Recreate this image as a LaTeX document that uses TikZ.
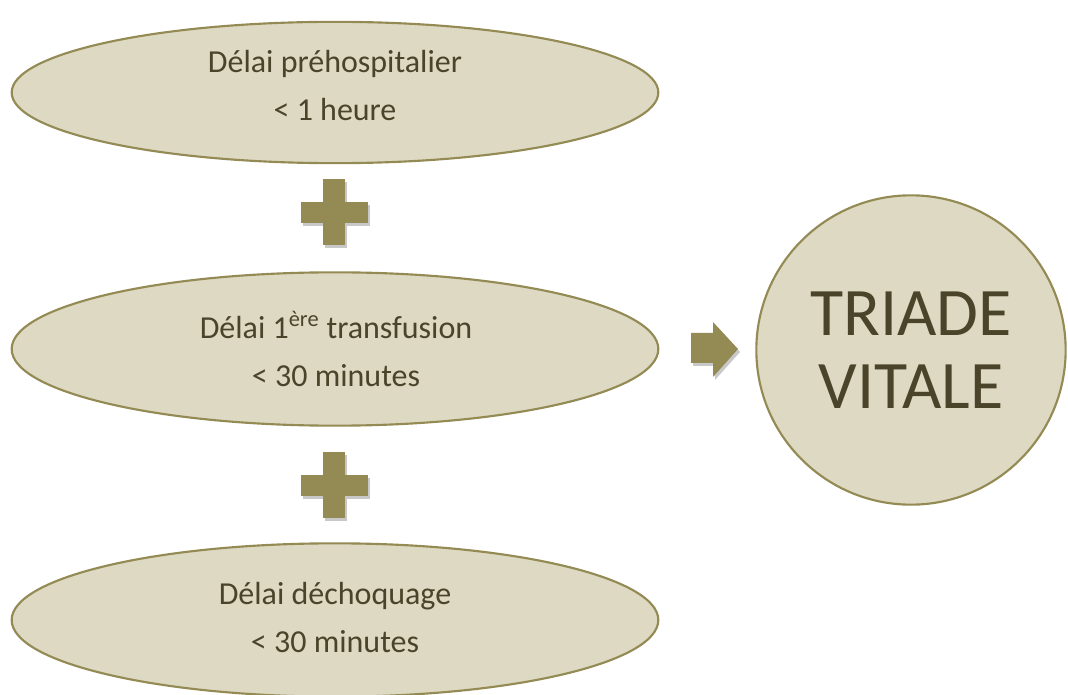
\documentclass[tikz,border=0pt]{standalone}
\usepackage{fontspec}
\setmainfont{Carlito}
\usetikzlibrary{shapes.geometric,shapes.arrows}
\definecolor{fillc}{HTML}{DDD9C3}
\definecolor{linec}{HTML}{948A54}
\definecolor{textc}{HTML}{4A442A}
\definecolor{shadc}{HTML}{C8C8C8}
\tikzset{
  oval/.style={ellipse, draw=linec, line width=1.6pt, fill=fillc,
    minimum width=485pt, minimum height=115pt, inner sep=0pt},
  ovaltext/.style={text=textc, align=center, inner sep=0pt,
    font=\fontsize{24}{36}\selectfont},
  bigcircle/.style={circle, draw=linec, line width=1.6pt, fill=fillc, text=textc,
    minimum size=232pt, inner sep=0pt, align=center,
    font=\fontsize{51}{55}\selectfont},
  sym/.style={fill=linec},
  symshadow/.style={fill=shadc}
}
\newcommand{\plusat}[2]{%
  \fill[symshadow] (#1-10+2,#2-33+3) rectangle (#1+12+2,#2+33+3);
  \fill[symshadow] (#1-32+2,#2-10+3) rectangle (#1+35+2,#2+11+3);
  \fill[sym] (#1-10,#2-33) rectangle (#1+12,#2+33);
  \fill[sym] (#1-32,#2-10) rectangle (#1+35,#2+11);
}
\begin{document}
\begin{tikzpicture}[x=0.75pt,y=-0.75pt]
\useasboundingbox (0,0) rectangle (1068,695);
\node[oval, minimum height=106pt] (e1) at (335,92.5) {};
\node[ovaltext] (t1) at (335,86) {Délai préhospitalier\\< 1 heure};
\node[oval] (e2) at (335,349) {};
\node[ovaltext] (t2) at (336,349) {Délai 1\textsuperscript{ère} transfusion\\< 30 minutes};
\node[oval] (e3) at (335,620) {};
\node[ovaltext] (t3) at (335,618) {Délai déchoquage\\< 30 minutes};
\node[bigcircle] (c) at (911,350) {TRIADE\\VITALE};
\plusat{333}{212}
\plusat{333}{485}
% arrow
\fill[symshadow] (693,336) -- (715,336) -- (715,325) -- (740,352) -- (715,380) -- (715,366) -- (693,366) -- cycle;
\fill[sym] (691,333) -- (713,333) -- (713,322) -- (738,349) -- (713,377) -- (713,363) -- (691,363) -- cycle;
\end{tikzpicture}
\end{document}
